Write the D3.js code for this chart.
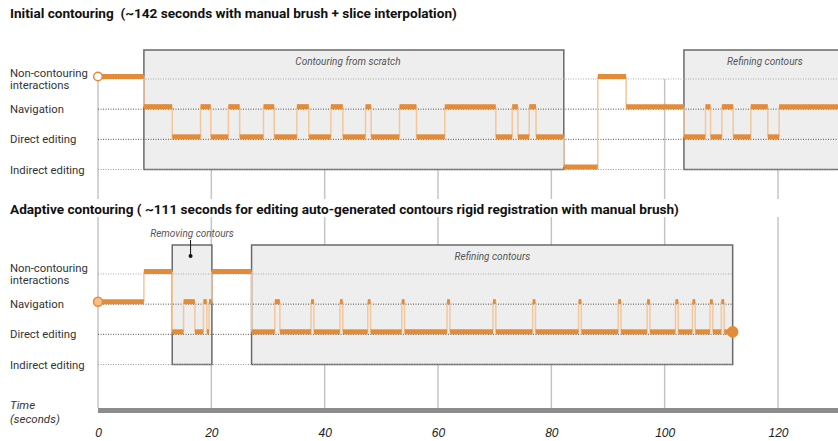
<!DOCTYPE html>
<html>
<head>
<meta charset="utf-8">
<script src="https://cdn.jsdelivr.net/npm/d3@7"></script>
<style>
  body { margin: 0; background: #fff; }
  svg { display: block; font-family: Roboto, "Noto Sans", sans-serif; }
  .lane-label { font-size: 11.3px; fill: #333; }
  .title { font-size: 13.6px; font-weight: bold; fill: #111; white-space: pre; }
  .box-label { font-size: 10px; font-style: italic; fill: #555; }
  .axis text { font-size: 12px; font-style: italic; fill: #222; }
</style>
</head>
<body>
<div id="chart"></div>
<script>

// lanes (top to bottom)
const lanes = ["Non-contouring interactions", "Navigation", "Direct editing", "Indirect editing"];
const tickValues = [0, 20, 40, 60, 80, 100, 120];

// initial contouring: segment boundaries (s) and lane index for each segment
const topTimes = [0, 8.1, 13.1, 18.1, 19.9, 23, 25, 29.2, 31.1, 35.1, 37.2, 41.1, 43.2, 47.2, 48.2,
  53.2, 56.2, 61.2, 70.2, 73.1, 74.1, 76.1, 77.3, 82.2, 88.2, 93.2, 103.4, 107.2, 108.1, 110.1,
  112.1, 115.2, 118.2, 120.2, 142];
const topStates = [0, 1, 2, 1, 2, 1, 2, 1, 2, 1, 2, 1, 2, 1, 2, 1, 2, 1, 2, 1, 2, 1, 2, 3, 0,
  1, 2, 1, 2, 1, 2, 1, 2, 1];

// adaptive contouring
const bottomTimes = [0, 8.1, 13.1, 15.1, 17.1, 18.6, 19.2, 19.6, 20.1, 27.1, 31.2, 32.1, 37.6, 38.1,
  42.7, 43.2, 47.6, 48.1, 53.6, 54.1, 61.6, 62.1, 69.7, 70.2, 76.7, 77.2, 84.8, 85.3, 91.8, 92.3,
  96.9, 97.4, 101.9, 102.4, 104.9, 105.4, 108, 108.5, 110, 110.5, 112];
const bottomStates = [1, 0, 2, 1, 2, 1, 2, 1, 0, 2, 1, 2, 1, 2, 1, 2, 1, 2, 1, 2, 1, 2, 1, 2, 1,
  2, 1, 2, 1, 2, 1, 2, 1, 2, 1, 2, 1, 2, 1, 2];

// phase boxes: [start, end, label, label position (s)]
const topBoxes = [[8.1, 82.2, "Contouring from scratch", 44.1], [103.4, 132, "Refining contours", 117.7]];
const bottomBoxes = [[13.1, 20.1, "Removing contours", 16.6], [27.1, 112, "Refining contours", 69.6]];

const width = 838, height = 441;
const orange = "#e38b39", orangeLight = "#f4c79c";

const svg = d3.select("#chart").append("svg")
  .attr("width", width).attr("height", height);

const x = d3.scaleLinear().domain([0, 120]).range([98, 778]);

const yTop = d3.scalePoint().domain(lanes).range([79, 169.5]);
const yBot = d3.scalePoint().domain(lanes).range([274, 364.5]);

// vertical grid lines (two pieces, broken by the second title)
const grid = svg.append("g");
[[79, 199], [217, 408]].forEach(([y0, y1]) => {
  grid.selectAll(null).data(tickValues).join("line")
    .attr("x1", d => x(d)).attr("x2", d => x(d))
    .attr("y1", d => d === 0 && y0 === 79 ? 77 : y0).attr("y2", y1)
    .attr("stroke", "#c4c4c4").attr("stroke-width", 1.5);
});

function panel(y, times, states, boxes, title, titleY, laneEnd, boxY0) {
  const g = svg.append("g");

  g.append("text").attr("class", "title").attr("x", 10).attr("y", titleY).text(title);

  // lane labels
  lanes.forEach((l, i) => {
    const t = g.append("text").attr("class", "lane-label").attr("x", 10);
    if (i === 0) {
      t.append("tspan").attr("x", 10).attr("y", y(l) - 2).text("Non-contouring");
      t.append("tspan").attr("x", 10).attr("y", y(l) + 10).text("interactions");
    } else {
      t.attr("y", y(l) + 4).text(l);
    }
  });

  // boxes
  g.selectAll("rect.box").data(boxes).join("rect")
    .attr("class", "box")
    .attr("x", d => x(d[0])).attr("width", d => x(d[1]) - x(d[0]))
    .attr("y", boxY0).attr("height", y(lanes[3]) - boxY0)
    .attr("fill", "#eeeeee").attr("stroke", "#6a6a6a").attr("stroke-width", 1.5);

  g.selectAll("text.box-label").data(boxes).join("text")
    .attr("class", "box-label")
    .attr("x", d => x(d[3]))
    .attr("y", boxY0 + 15)
    .attr("text-anchor", "middle")
    .text(d => d[2]);

  // dotted lane lines
  const dotColor = ["#aaa", "#555", "#555", "#999"];
  g.selectAll("line.lane").data(lanes).join("line")
    .attr("class", "lane")
    .attr("x1", x(0)).attr("x2", x(laneEnd))
    .attr("y1", d => y(d)).attr("y2", d => y(d))
    .attr("stroke", (d, i) => dotColor[i])
    .attr("stroke-width", 1)
    .attr("stroke-dasharray", "1,1.5");

  // transitions (thin, light)
  const trans = d3.range(1, states.length);
  g.selectAll("line.trans").data(trans).join("line")
    .attr("class", "trans")
    .attr("x1", i => x(times[i])).attr("x2", i => x(times[i]))
    .attr("y1", i => y(lanes[states[i - 1]]) - 2.5)
    .attr("y2", i => y(lanes[states[i]]) - 2.5)
    .attr("stroke", orangeLight).attr("stroke-width", 1.5);

  // state segments (thick)
  g.selectAll("line.seg").data(states).join("line")
    .attr("class", "seg")
    .attr("x1", (s, i) => x(times[i])).attr("x2", (s, i) => x(times[i + 1]))
    .attr("y1", s => y(lanes[s]) - 2.5).attr("y2", s => y(lanes[s]) - 2.5)
    .attr("stroke", orange).attr("stroke-width", 5);

  return g;
}

const topPanel = panel(yTop, topTimes, topStates, topBoxes,
  "Initial contouring  (~142 seconds with manual brush + slice interpolation)", 18, 142, 50);
const botPanel = panel(yBot, bottomTimes, bottomStates, bottomBoxes,
  "Adaptive contouring ( ~111 seconds for editing auto-generated contours rigid registration with manual brush)", 214, 112, 245);

// start / end markers
topPanel.append("circle")
  .attr("cx", x(0)).attr("cy", yTop(lanes[0]) - 2.5).attr("r", 4.3)
  .attr("fill", "#fff").attr("stroke", orange).attr("stroke-width", 1.5);
botPanel.append("circle")
  .attr("cx", x(0)).attr("cy", yBot(lanes[1]) - 2.5).attr("r", 4.5)
  .attr("fill", "#f6bf88").attr("stroke", orange).attr("stroke-width", 1.5);
botPanel.append("circle")
  .attr("cx", x(112)).attr("cy", yBot(lanes[2]) - 2.5).attr("r", 5.8)
  .attr("fill", orange);

// "Removing contours" pointer
const rm = bottomBoxes[0];
botPanel.select("text.box-label").attr("y", 237);
botPanel.append("line")
  .attr("x1", x(rm[3]) - 1.5).attr("x2", x(rm[3]) - 1.5)
  .attr("y1", 240).attr("y2", 256)
  .attr("stroke", "#111").attr("stroke-width", 1);
botPanel.append("circle")
  .attr("cx", x(rm[3]) - 1.5).attr("cy", 256).attr("r", 2)
  .attr("fill", "#111");

// time axis
const axis = svg.append("g").attr("class", "axis")
  .attr("transform", "translate(0,410.5)")
  .call(d3.axisBottom(x).tickValues(tickValues).tickSize(0).tickSizeOuter(0).tickPadding(18));
axis.select(".domain")
  .attr("d", `M${x(0)},0H${width}`)
  .attr("stroke", "#8c8c8c").attr("stroke-width", 5);

const tl = svg.append("text").attr("class", "box-label").style("font-size", "11.5px").style("fill", "#333");
tl.append("tspan").attr("x", 10).attr("y", 409).text("Time");
tl.append("tspan").attr("x", 10).attr("y", 423).text("(seconds)");

</script>
</body>
</html>
